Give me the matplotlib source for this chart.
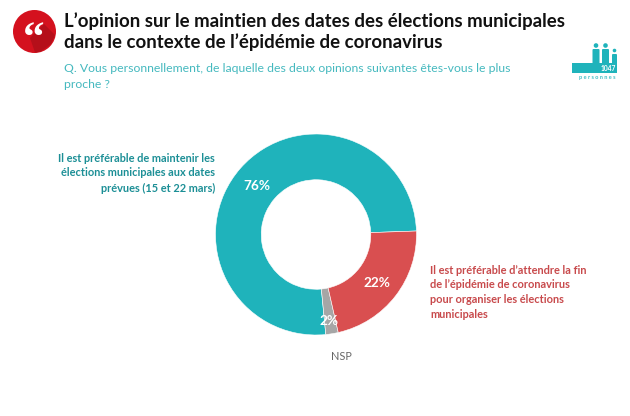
import matplotlib
matplotlib.use("Agg")
import matplotlib.pyplot as plt
from matplotlib.patches import Circle, Rectangle, FancyBboxPatch, Polygon

plt.rcParams['font.family'] = ['Lato', 'DejaVu Sans']

# Data
shares = [76, 2, 22]
share_labels = ['76%', '2%', '22%']
colors = ['#1fb3bb', '#a6a6a6', '#d94f50']

TEAL = '#1fb3bb'
W, H = 630, 416

fig = plt.figure(figsize=(W / 100, H / 100), dpi=100, facecolor='white')

# overlay in pixel coords for the slide furniture
bg = fig.add_axes([0, 0, 1, 1])
bg.set_xlim(0, W)
bg.set_ylim(H, 0)
bg.axis('off')

# quote badge
bg.add_patch(Circle((34.5, 31.5), 21.5, color='#d4111e', lw=0))
shadow = Polygon([(30, 38), (44, 24), (55, 35), (51, 44), (41, 51.5), (35, 52.5)],
                 closed=True, color='#b50f1a', lw=0)
bg.add_patch(shadow)
bg.text(34, 40, '\u201c', color='white', fontsize=31, fontweight='bold',
        family=['Liberation Serif'], ha='center', va='center')

# title + question
bg.text(64, 21.5, "L\u2019opinion sur le maintien des dates des élections municipales",
        fontsize=13.4, fontweight='bold', color='#111111', va='center')
bg.text(64, 42, "dans le contexte de l\u2019épidémie de coronavirus",
        fontsize=13.4, fontweight='bold', color='#111111', va='center')
bg.text(64, 68, "Q. Vous personnellement, de laquelle des deux opinions suivantes êtes-vous le plus",
        fontsize=8.85, color='#45b9bf', va='center')
bg.text(64, 84, "proche ?", fontsize=8.85, color='#45b9bf', va='center')

# respondents logo
bg.add_patch(Rectangle((572, 63), 45, 10, color=TEAL, lw=0))
for px, top, w, r in [(596, 49, 7, 2.3), (605.5, 49, 7, 2.3), (614.5, 54, 5, 1.8)]:
    bg.add_patch(Circle((px, top - 3.5), r, color=TEAL, lw=0))
    bg.add_patch(FancyBboxPatch((px - w / 2 + 1, top + 1), w - 2, 64 - top - 2,
                                boxstyle='round,pad=1', color=TEAL, lw=0))
bg.text(608, 68.3, '1047', color='white', fontsize=4.8, fontweight='bold',
        ha='center', va='center')
bg.text(597, 77.5, 'p e r s o n n e s', color=TEAL, fontsize=4, fontweight='bold',
        ha='center', va='center', alpha=0.85)

# donut
cx, cy, rad = 316, 234.5, 100.5
ax = fig.add_axes([(cx - rad) / W, 1 - (cy + rad) / H, 2 * rad / W, 2 * rad / H])
wedges, _ = ax.pie(shares, colors=colors, startangle=2, radius=1, counterclock=True,
                   wedgeprops=dict(width=0.455, linewidth=0.4, edgecolor='white'))
ax.set_xlim(-1, 1)
ax.set_ylim(-1, 1)

# slice labels, on top of everything
bg.set_zorder(ax.get_zorder() + 1)
bg.patch.set_alpha(0)
label_xy = [(257, 186.5), (329, 321), (377, 283)]
for txt, (x, y) in zip(share_labels, label_xy):
    bg.text(x, y, txt, color='white', fontsize=9.8, fontweight='bold', ha='center', va='center')

# callouts
left_lines = ["Il est préférable de maintenir les", "élections municipales aux dates",
              "prévues (15 et 22 mars)"]
for i, line in enumerate(left_lines):
    bg.text(215, 158 + i * 15, line, color='#1c8f96', fontsize=7.95, fontweight='bold',
            ha='right', va='center')

right_lines = ["Il est préférable d\u2019attendre la fin", "de l\u2019épidémie de coronavirus",
               "pour organiser les élections", "municipales"]
for i, line in enumerate(right_lines):
    bg.text(430, 270 + i * 14.7, line, color='#c84a4c', fontsize=7.95, fontweight='bold',
            ha='left', va='center')

bg.text(341, 356, 'NSP', color='#666666', fontsize=7.8, ha='center', va='center')

fig.savefig('out.png', dpi=100, facecolor='white')
